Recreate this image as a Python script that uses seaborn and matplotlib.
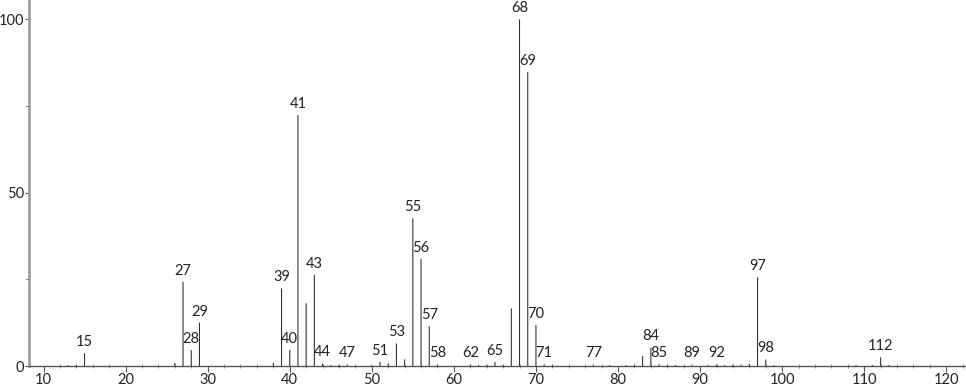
import matplotlib
matplotlib.use("Agg")
import matplotlib.pyplot as plt
from matplotlib.ticker import MultipleLocator
import seaborn as sns
import pandas as pd

# m/z values and relative intensities
mz = [13, 14, 15, 26, 27, 28, 29, 38, 39, 40, 41, 42, 43, 44, 45, 46, 47, 50, 51, 52,
      53, 54, 55, 56, 57, 58, 62, 63, 64, 65, 66, 67, 68, 69, 70, 71, 72, 77, 79,
      81, 82, 83, 84, 85, 86, 87, 89, 91, 92, 93, 94, 95, 96, 97, 98, 99, 109, 111,
      112, 113]
intensity = [0.3, 0.3, 3.7, 0.9, 24.3, 4.6, 12.5, 0.9, 22.4, 4.6, 72.4, 18.1, 26.3, 0.7, 0.3, 0.3, 0.4, 0.3, 1.2, 0.7,
             6.5, 1.9, 42.6, 30.9, 11.5, 0.4, 0.4, 0.3, 0.3, 1.2, 0.3, 16.6, 100.0, 84.8, 11.8, 0.5, 0.3, 0.4, 0.3,
             0.3, 0.4, 2.9, 5.3, 0.5, 0.3, 0.3, 0.4, 0.3, 0.4, 0.3, 0.4, 0.4, 0.6, 25.6, 1.9, 0.3, 0.3, 0.3,
             2.5, 0.3]
labeled = [15, 27, 28, 29, 39, 40, 41, 43, 44, 47, 51, 53, 55, 56, 57, 58, 62, 65,
           68, 69, 70, 71, 77, 84, 85, 89, 92, 97, 98, 112]

df = pd.DataFrame({"mz": mz, "intensity": intensity})

sns.set_theme(style="white")
plt.rcParams["font.family"] = ["Lato", "DejaVu Sans"]

fig = plt.figure(figsize=(9.66, 3.89), dpi=100)
ax = fig.add_axes([29 / 966, 23 / 389, (966 - 29) / 966, 366 / 389])

sns.barplot(data=df, x="mz", y="intensity", native_scale=True, width=0.13,
            color="#2e2e2e", linewidth=0, errorbar=None, saturation=1, ax=ax)
for p in ax.patches:
    p.set_snap(False)

lookup = dict(zip(mz, intensity))
for m in labeled:
    ax.annotate(str(m), (m, lookup[m]), xytext=(0, 3), textcoords="offset points",
                ha="center", va="bottom", fontsize=10.5, color="#222222")

ax.set_xlim(8.23, 122.4)
ax.set_ylim(0, 105.6)
ax.set_xlabel("")
ax.set_ylabel("")
ax.xaxis.set_major_locator(MultipleLocator(10))
ax.xaxis.set_minor_locator(MultipleLocator(2))
ax.yaxis.set_major_locator(MultipleLocator(50))
ax.yaxis.set_minor_locator(MultipleLocator(25))

for s in ["top", "right"]:
    ax.spines[s].set_visible(False)
ax.spines["left"].set_color("#a0a0a0")
ax.spines["left"].set_linewidth(2)
ax.spines["bottom"].set_color("#555555")
ax.spines["bottom"].set_linewidth(1)

ax.tick_params(axis="x", which="major", direction="out", length=4, width=0.8,
               color="#555555", labelsize=10.5, labelcolor="#222222", pad=1, bottom=True)
ax.tick_params(axis="x", which="minor", direction="inout", length=3, width=0.6,
               color="#777777", bottom=True)
ax.tick_params(axis="y", which="major", direction="out", length=3, width=0.8,
               color="#555555", labelsize=10.5, labelcolor="#222222", pad=0.5, left=True)
ax.tick_params(axis="y", which="minor", direction="out", length=2, width=0.8,
               color="#555555", left=True)

fig.savefig("out.png", dpi=100)
